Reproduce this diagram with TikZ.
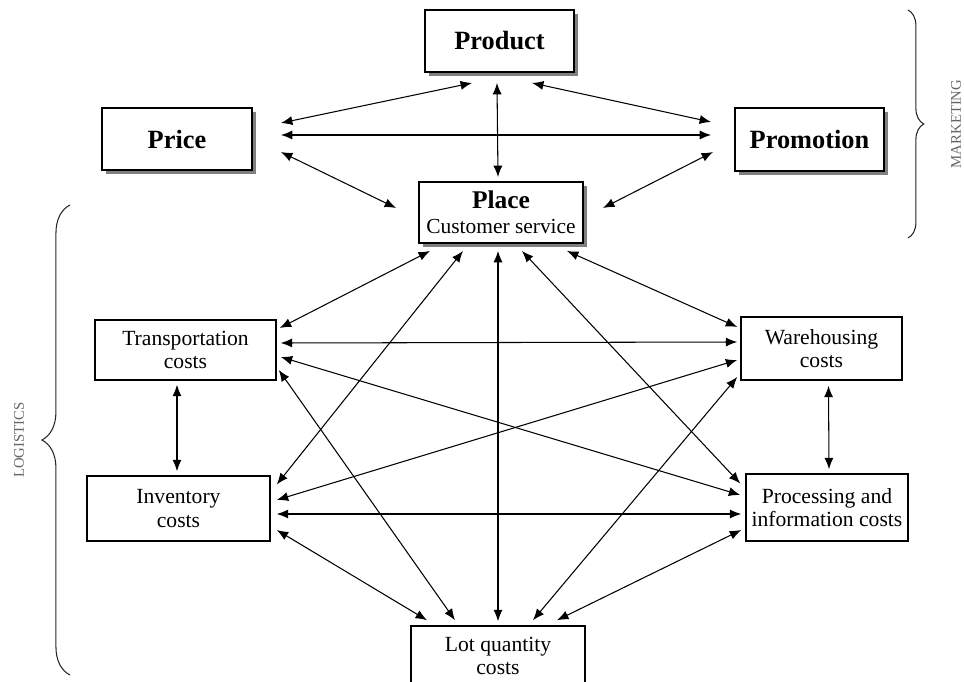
\documentclass[tikz,border=0pt]{standalone}
\usepackage{fontspec}
\setmainfont{Liberation Serif}
\usetikzlibrary{arrows.meta,decorations.pathreplacing,shadows}
\tikzset{
  mkt/.style={draw,line width=1.1pt,fill=white,inner sep=0pt,align=center,
    font=\fontsize{15}{18}\selectfont\bfseries,
    drop shadow={shadow xshift=2.3pt,shadow yshift=-2.3pt,fill=gray,opacity=1}},
  lgs/.style={draw,line width=0.9pt,fill=white,inner sep=0pt,align=center,
    font=\fontsize{12.3}{13.4}\selectfont},
  link/.style={<->,line width=0.6pt},
  sidebrace/.style={decorate,decoration={brace,amplitude=#1},line width=0.6pt,black!85},
  sidelabel/.style={rotate=90,text=black!60,font=\fontsize{8.4}{10}\selectfont}
}
\begin{document}
\begin{tikzpicture}[x=0.02cm,y=-0.02cm,>={Latex[length=6.5pt,width=5.2pt]}]
\clip (0,0) rectangle (964,682);
% marketing mix
\node (product) at (499.5,41) [mkt,minimum width=2.98cm,minimum height=1.24cm] {Product};
\node (price) at (177,139) [mkt,minimum width=3cm,minimum height=1.24cm] {Price};
\node (promo) at (809.5,139.5) [mkt,minimum width=2.98cm,minimum height=1.26cm] {Promotion};
\node (place) at (501,212.5) [mkt,minimum width=3.28cm,minimum height=1.22cm,
  font=\fontsize{12.2}{14.2}\selectfont] {{\fontsize{14.5}{16}\selectfont\bfseries Place}\\Customer service};
% logistics costs
\node (trans) at (185.5,350) [lgs,minimum width=3.62cm,minimum height=1.2cm] {Transportation\\costs};
\node (inv) at (178.5,508.5) [lgs,minimum width=3.66cm,minimum height=1.3cm] {Inventory\\costs};
\node (ware) at (821.5,348.5) [lgs,minimum width=3.22cm,minimum height=1.26cm] {Warehousing\\costs};
\node (proc) at (827,507.5) [lgs,minimum width=3.24cm,minimum height=1.34cm] {Processing and\\information costs};
\node (lot) at (498,656) [lgs,minimum width=3.48cm,minimum height=1.2cm] {Lot quantity\\costs};
% links between the four Ps
\draw[link] ([shift={(28,-16)}]price.east) -- ([shift={(-27.5,10)}]product.south);
\draw[link] ([shift={(28,-4)}]price.east) -- ([shift={(-23,-4.5)}]promo.west);
\draw[link] ([shift={(28,13)}]price.east) -- ([shift={(-22,-4.5)}]place.west);
\draw[link] ([shift={(-2.5,10)}]product.south) -- ([shift={(-3,-4)}]place.north);
\draw[link] ([shift={(32.5,10)}]product.south) -- ([shift={(-23,-17.5)}]promo.west);
\draw[link] ([shift={(-21,12.5)}]promo.west) -- ([shift={(19,-4.5)}]place.east);
% links between the costs
\draw[link] ([shift={(-71,7)}]place.south) -- ([shift={(3,-22)}]trans.east);
\draw[link] ([shift={(-38,7)}]place.south) -- ([shift={(6,-24)}]inv.east);
\draw[link] ([shift={(-3,7)}]place.south) -- ([shift={(0,-4)}]lot.north);
\draw[link] ([shift={(21,7)}]place.south) -- ([shift={(-5,-24)}]proc.west);
\draw[link] ([shift={(66,7)}]place.south) -- ([shift={(-3,-21.5)}]ware.west);
\draw[link] ([shift={(4,-7)}]trans.east) -- ([shift={(-3,-6.5)}]ware.west);
\draw[link] ([shift={(4,7)}]trans.east) -- ([shift={(-5,-12.5)}]proc.west);
\draw[link] ([shift={(2,20)}]trans.east) -- ([shift={(-43,-5)}]lot.north);
\draw[link] ([shift={(-8.5,4)}]trans.south) -- ([shift={(-1.5,-4)}]inv.north);
\draw[link] ([shift={(-3,11.5)}]ware.west) -- ([shift={(6,-8.5)}]inv.east);
\draw[link] ([shift={(-3,28.5)}]ware.west) -- ([shift={(35,-5)}]lot.north);
\draw[link] ([shift={(7,5)}]ware.south) -- ([shift={(2,-4)}]proc.north);
\draw[link] ([shift={(6,5.5)}]inv.east) -- ([shift={(-4,6.5)}]proc.west);
\draw[link] ([shift={(6,21.5)}]inv.east) -- ([shift={(-71,-5)}]lot.north);
\draw[link] ([shift={(-4,22.5)}]proc.west) -- ([shift={(59,-5)}]lot.north);
% side braces
\draw[sidebrace=9pt] (908,10) -- (908,238);
\node (mktlabel) at (956,124) [sidelabel] {MARKETING};
\draw[sidebrace=16pt] (70,675) -- (70,205);
\node (lgslabel) at (19,440) [sidelabel] {LOGISTICS};
\end{tikzpicture}
\end{document}
